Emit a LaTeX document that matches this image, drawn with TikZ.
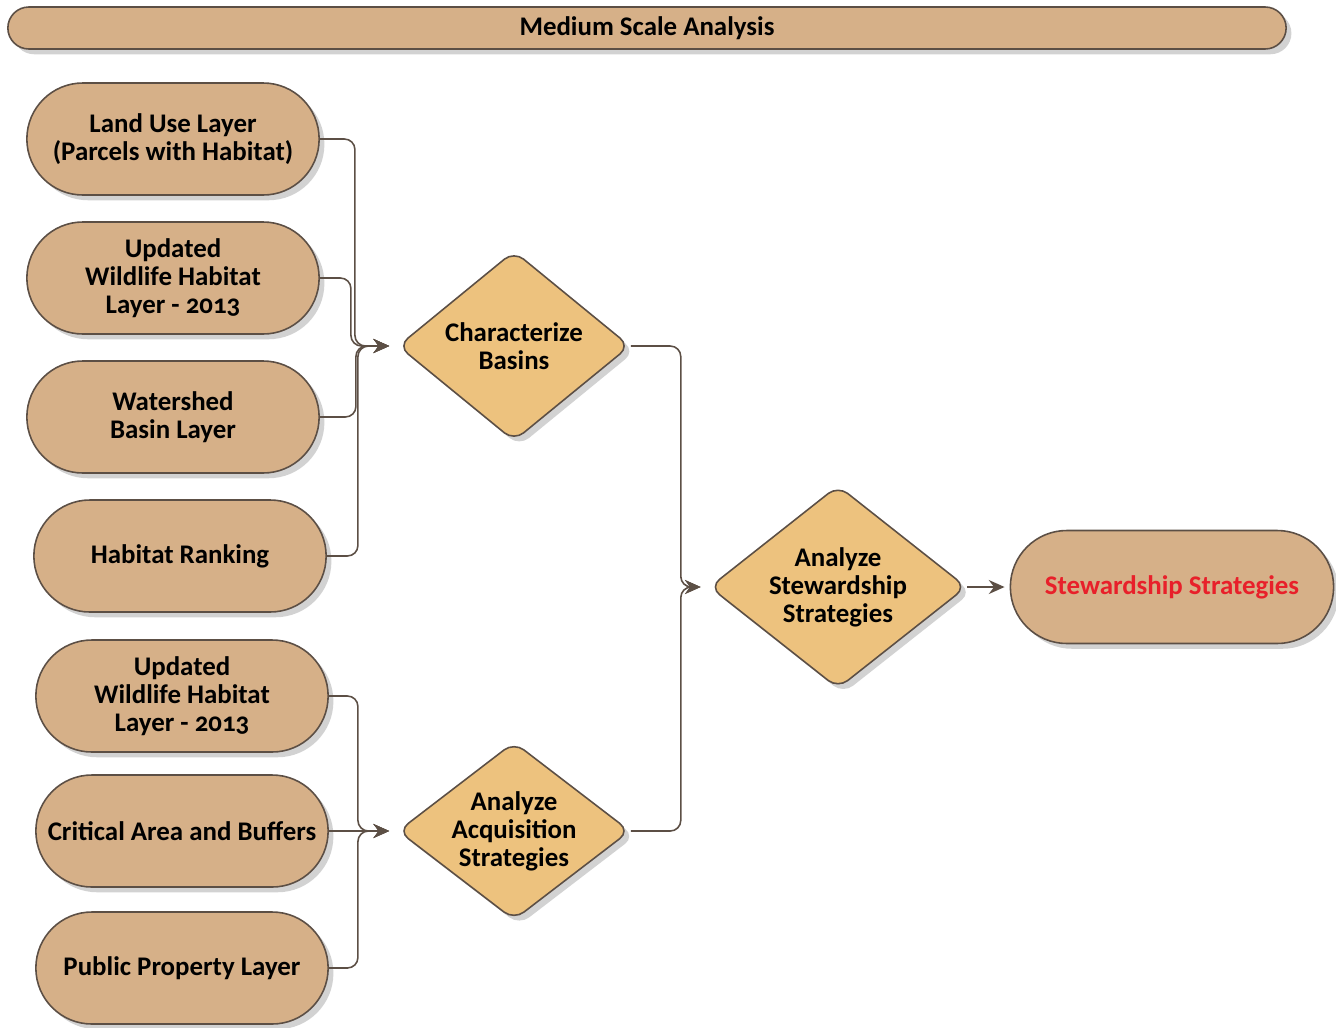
\documentclass[tikz,border=0pt]{standalone}
\usepackage{fontspec}
\setmainfont[Numbers=OldStyle]{Carlito}
\usetikzlibrary{shapes.geometric,shapes.misc,shadows,arrows.meta}
\definecolor{layerfill}{HTML}{D6B088}
\definecolor{stepfill}{HTML}{EDC27E}
\definecolor{edgeline}{HTML}{5C4F45}
\definecolor{outred}{HTML}{E8202A}
\begin{document}
\begin{tikzpicture}[line width=0.9pt,
    layer node/.style={rounded rectangle, draw=edgeline, fill=layerfill, minimum width=6.08cm, minimum height=2.24cm, align=center, drop shadow={shadow xshift=3pt, shadow yshift=-3pt, fill=black!35, opacity=.5}},
    decision node/.style={diamond, draw=edgeline, fill=stepfill, rounded corners=7pt, inner sep=-5pt, align=center, drop shadow={shadow xshift=3pt, shadow yshift=-3pt, fill=black!35, opacity=.5}},
    link/.style={draw=edgeline, rounded corners=6pt, -{Stealth[length=9pt,width=8pt,inset=3pt]}, shorten >=0.16cm}]
        \tikzstyle{every node}=[font=\fontsize{15.3}{15.9}\selectfont\bfseries]
        \useasboundingbox (0,0) rectangle (26.72,-20.54);

          \node[layer node, minimum width=25.80cm, minimum height=0.84cm] (0) at (12.94,-0.56) {Medium Scale Analysis};

          \node[layer node] (1) at (3.46,-2.78) {Land Use Layer\\(Parcels with Habitat)};
          \node[layer node] (2) at (3.46,-5.56) {Updated\\Wildlife Habitat\\Layer - 2013};
          \node[layer node] (3) at (3.46,-8.34) {Watershed\\Basin Layer};
          \node[layer node] (4) at (3.60,-11.12) {Habitat Ranking};
          \node[layer node] (5) at (3.64,-13.92) {Updated\\Wildlife Habitat\\Layer - 2013};
          \node[layer node] (6) at (3.64,-16.62) {Critical Area and Buffers};
          \node[layer node] (7) at (3.64,-19.36) {Public Property Layer};

          \node[decision node, minimum width=4.64cm, minimum height=3.8cm] (8) at (10.28,-6.92) {Characterize\\Basins};
          \node[decision node, minimum width=4.64cm, minimum height=3.56cm] (9) at (10.28,-16.62) {Analyze\\Acquisition\\Strategies};
          \node[decision node, minimum width=5.14cm, minimum height=4.06cm] (10) at (16.76,-11.74) {Analyze\\Stewardship\\Strategies};

          \node[layer node, minimum width=6.70cm, minimum height=2.26cm, text=outred] (11) at (23.44,-11.74) {Stewardship Strategies};

          % inputs of the basins step
          \draw[link] (1.east) -- ++(0.70,0) |- (8.west);
          \draw[link] (2.east) -- ++(0.62,0) |- (8.west);
          \draw[link] (3.east) -- ++(0.72,0) |- (8.west);
          \draw[link] (4.east) -- ++(0.62,0) |- (8.west);

          % inputs of the acquisition step
          \draw[link] (5.east) -- ++(0.58,0) |- (9.west);
          \draw[link] (6.east) -- (9.west);
          \draw[link] (7.east) -- ++(0.58,0) |- (9.west);

          \draw[link] (8.east) -- ++(1.0,0) |- (10.west);
          \draw[link] (9.east) -- ++(1.0,0) |- (10.west);
          \draw[link, shorten >=0.1cm] (10.east) -- (11.west);

        \end{tikzpicture}
\end{document}
